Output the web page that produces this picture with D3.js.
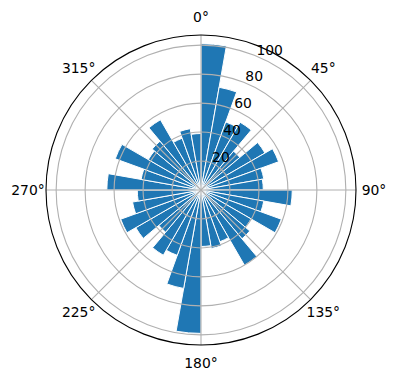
<!DOCTYPE html>
<html>
<head>
<meta charset="utf-8">
<script src="https://cdn.jsdelivr.net/npm/d3@7"></script>
<style>
  html, body { margin: 0; padding: 0; background: #fff; }
  svg { display: block; font-family: "DejaVu Sans", sans-serif; }
</style>
</head>
<body>
<script>
// Bin start angles (degrees, clockwise from north) and bar heights
const binStarts = d3.range(0, 360, 10);
const binWidth = 10;
const counts = [101, 72, 50, 54, 35, 51, 57, 44, 43,
                63, 44, 59, 40, 44, 60, 38, 41, 39,
                99, 69, 48, 52, 38, 52, 59, 48, 44,
                65, 42, 63, 42, 44, 56, 38, 43, 39];
const rTicks = [20, 40, 60, 80, 100];
const thetaTicks = [0, 45, 90, 135, 180, 225, 270, 315];
const thetaLabels = ["0°", "45°", "90°", "135°", "180°", "225°", "270°", "315°"];

const W = 396, H = 380;
const cx = 201, cy = 190, R = 155;
const rMax = 107;

const svg = d3.select("body").append("svg").attr("width", W).attr("height", H);
const g = svg.append("g").attr("transform", `translate(${cx},${cy})`);

const r = d3.scaleLinear().domain([0, rMax]).range([0, R]);
const rad = d => d * Math.PI / 180;

// bars
const arc = d3.arc()
  .innerRadius(0)
  .outerRadius(d => r(d.v))
  .startAngle(d => rad(d.a))
  .endAngle(d => rad(d.a + binWidth));

const data = binStarts.map((a, i) => ({a, v: counts[i]}));
g.append("g").selectAll("path").data(data).join("path")
  .attr("d", arc)
  .attr("fill", "#1f77b4")
  .attr("stroke", "#ffffff")
  .attr("stroke-width", 1)
  .attr("stroke-linejoin", "miter");

// grid (on top of bars, as matplotlib)
const grid = g.append("g");
grid.selectAll("circle").data(rTicks).join("circle")
  .attr("r", d => r(d))
  .attr("fill", "none")
  .attr("stroke", "#b0b0b0")
  .attr("stroke-width", 1.1);
grid.selectAll("line").data(thetaTicks).join("line")
  .attr("x1", 0).attr("y1", 0)
  .attr("x2", d => R * Math.sin(rad(d)))
  .attr("y2", d => -R * Math.cos(rad(d)))
  .attr("stroke", "#b0b0b0")
  .attr("stroke-width", 1.1);

// spine
g.append("circle").attr("r", R).attr("fill", "none")
  .attr("stroke", "#000").attr("stroke-width", 1.1);

// theta labels
const labR = 173;
g.append("g").selectAll("text").data(thetaTicks).join("text")
  .attr("x", d => labR * Math.sin(rad(d)))
  .attr("y", d => -labR * Math.cos(rad(d)))
  .attr("text-anchor", "middle")
  .attr("dominant-baseline", "central")
  .attr("font-size", "13.9px")
  .attr("fill", "#000")
  .text((d, i) => thetaLabels[i]);

// radial labels at 22.5 deg
const rl = rad(22.5);
g.append("g").selectAll("text").data(rTicks).join("text")
  .attr("x", d => r(d) * Math.sin(rl))
  .attr("y", d => -r(d) * Math.cos(rl) - 1.5)
  .attr("text-anchor", "start")
  .attr("font-size", "13.9px")
  .attr("fill", "#000")
  .text(d => d);
</script>
</body>
</html>
